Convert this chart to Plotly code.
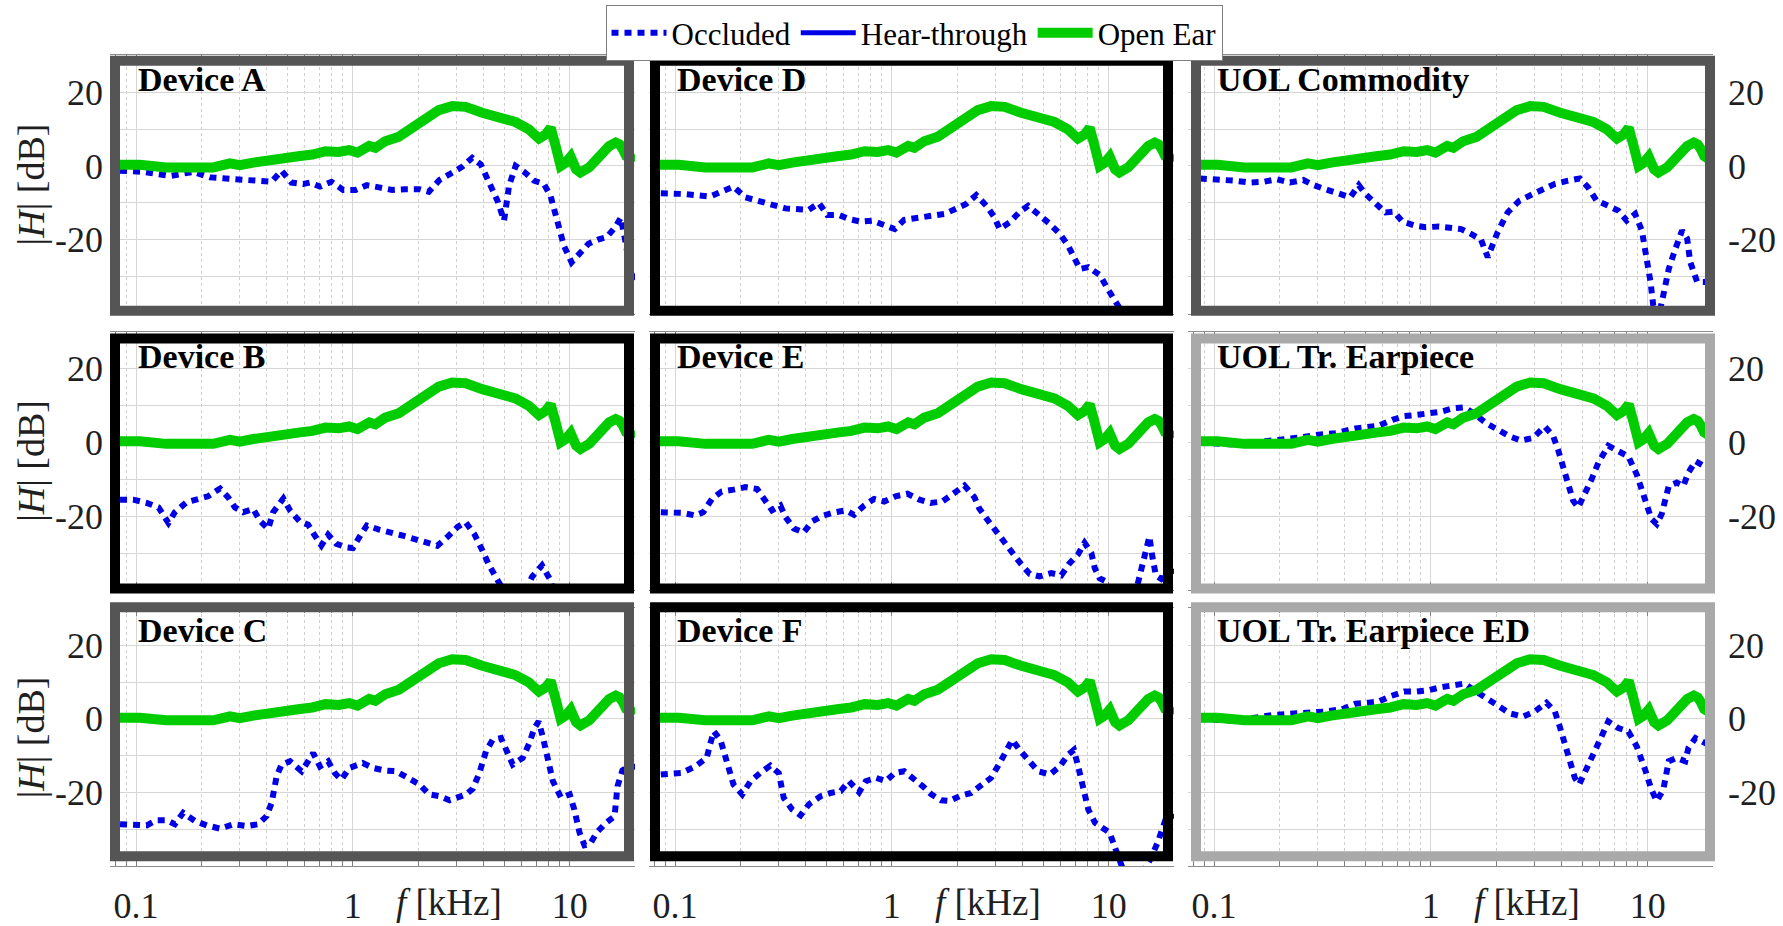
import math
import plotly.graph_objects as go

# ---------------- data (frequency in kHz, magnitude in dB) ----------------
open_ear_f = [0.084, 0.104, 0.138, 0.197, 0.227, 0.271, 0.301, 0.347, 0.414, 0.477, 0.57, 0.65, 0.748, 0.861,
              0.96, 1.05, 1.19, 1.27, 1.41, 1.63, 1.88, 2.16, 2.49, 2.87, 3.31, 3.95, 4.71, 5.62, 6.48, 7.21,
              7.74, 8.17, 8.61, 9.08, 9.59, 10.1, 10.7, 11.2, 12.3, 13.7, 15.2, 16.3, 17.0, 17.6, 18.2, 19.0, 20.0]
open_ear_db = [0.3, 0.3, -0.4, 0.0, -0.4, 0.7, 0.2, 0.9, 1.3, 2.2, 2.7, 3.1, 4.0, 3.8,
               4.3, 3.6, 5.4, 4.9, 6.7, 7.9, 10.1, 12.6, 15.1, 16.2, 16.0, 14.4, 13.0, 11.9, 9.9, 7.4,
               8.5, 10.3, 5.4, 0.0, 0.9, 2.5, -0.9, -1.8, -0.4, 2.9, 5.4, 6.3, 5.8, 4.5, 2.7, 2.0, 3.0]

# no hear-through curve is drawn in any panel; it only appears in the legend
hear_through_f = [None]
hear_through_db = [None]

dev_a_f = [0.0844, 0.108, 0.144, 0.184, 0.219, 0.281, 0.36, 0.422, 0.469, 0.521, 0.59, 0.634, 0.705, 0.797,
           0.902, 1.03, 1.16, 1.32, 1.52, 1.74, 2.03, 2.24, 2.51, 2.88, 3.2, 3.55, 3.89, 4.18, 4.64, 4.98,
           5.25, 5.63, 6.16, 6.84, 7.6, 8.16, 8.75, 9.4, 10.2, 11.1, 12.2, 13.6, 14.8, 16.2, 17.2, 18.0, 19.0, 20.0]
dev_a_db = [-1.3, -1.6, -2.7, -1.6, -3.1, -3.4, -4.0, -4.3, -1.3, -4.5, -4.9, -4.5, -5.6, -4.3,
            -6.5, -6.5, -5.2, -5.8, -6.5, -6.3, -6.3, -7.0, -3.8, -1.8, -0.2, 2.2, 0.4, -3.6, -9.4, -14.8,
            -5.4, 0.0, -1.6, -4.0, -4.9, -8.1, -14.4, -21.6, -26.1, -23.8, -21.1, -19.9, -19.3, -16.6, -14.0, -20.0, -28.0, -32.0]

dev_d_f = [0.086, 0.111, 0.145, 0.167, 0.186, 0.211, 0.239, 0.275, 0.323, 0.413, 0.461, 0.504, 0.571, 0.635,
           0.719, 0.815, 0.922, 1.03, 1.14, 1.31, 1.52, 1.75, 1.98, 2.2, 2.45, 2.73, 2.97, 3.14, 3.49, 3.89,
           4.25, 4.81, 5.35, 5.95, 6.5, 6.98, 7.36, 8.05, 9.12, 9.78, 10.5, 11.3, 12.5, 14.0]
dev_d_db = [-7.4, -7.6, -8.3, -6.7, -5.6, -8.5, -9.4, -10.6, -11.5, -11.9, -10.1, -13.3, -13.3, -14.4,
            -15.1, -14.8, -16.2, -17.1, -14.6, -13.9, -13.5, -13.0, -11.7, -10.3, -7.9, -10.8, -13.9, -17.1, -15.3, -12.4,
            -10.8, -13.3, -15.7, -18.4, -21.6, -25.2, -27.9, -27.4, -29.6, -32.8, -35.9, -39.1, -43.0, -46.0]

uol_com_f = [0.086, 0.108, 0.125, 0.146, 0.169, 0.194, 0.224, 0.258, 0.288, 0.326, 0.376, 0.425, 0.465, 0.499,
             0.555, 0.618, 0.676, 0.739, 0.852, 0.948, 1.09, 1.24, 1.38, 1.53, 1.70, 1.83, 1.89, 2.03, 2.26, 2.56,
             2.96, 3.29, 3.72, 4.29, 4.86, 5.31, 5.81, 6.58, 7.32, 8.0, 8.75, 9.4, 9.9, 10.3, 10.6, 11.2, 11.8,
             12.5, 13.4, 14.4, 15.2, 15.7, 16.9, 18.5, 19.3, 20.0]
uol_com_db = [-3.4, -3.6, -4.0, -4.5, -4.3, -3.6, -4.5, -3.8, -5.2, -6.3, -7.6, -8.5, -5.2, -7.6,
              -10.1, -12.6, -12.4, -15.1, -16.2, -16.6, -16.4, -16.9, -17.1, -18.4, -19.9, -24.7, -22.5, -18.0, -12.6, -9.4,
              -7.6, -6.3, -4.9, -4.0, -3.4, -5.8, -9.4, -10.8, -12.1, -14.8, -13.0, -17.5, -24.3, -31.4, -37.7, -41.0, -35.0,
              -27.9, -22.5, -17.5, -19.7, -26.0, -31.4, -31.4, -30.5, -28.0]

dev_b_f = [0.0844, 0.097, 0.112, 0.127, 0.141, 0.151, 0.171, 0.19, 0.215, 0.244, 0.266, 0.286, 0.312, 0.347,
           0.372, 0.407, 0.429, 0.478, 0.513, 0.569, 0.622, 0.667, 0.716, 0.769, 0.84, 0.933, 1.0, 1.07, 1.16,
           1.32, 1.5, 1.69, 1.91, 2.21, 2.45, 2.73, 3.04, 3.31, 3.63, 3.96, 4.25, 4.65, 4.9, 5.5, 6.2, 6.7, 7.45,
           8.1, 8.6, 9.5]
dev_b_db = [-15.5, -15.5, -16.4, -17.6, -21.8, -18.9, -16.2, -15.3, -14.6, -12.5, -14.9, -17.6, -18.9, -18.0,
            -21.2, -23.4, -18.9, -15.2, -18.4, -21.4, -22.3, -25.2, -27.9, -25.0, -27.5, -28.4, -28.6, -25.7, -22.5,
            -23.6, -24.3, -25.2, -26.1, -27.0, -28.0, -25.6, -22.9, -21.6, -24.8, -29.3, -33.3, -37.3, -39.6, -42.0, -41.0, -36.4, -33.3,
            -37.0, -42.0, -46.0]

dev_e_f = [0.086, 0.109, 0.124, 0.135, 0.148, 0.164, 0.186, 0.211, 0.239, 0.261, 0.28, 0.306, 0.323, 0.353,
           0.392, 0.429, 0.477, 0.54, 0.612, 0.669, 0.745, 0.828, 0.922, 1.04, 1.18, 1.34, 1.51, 1.71, 1.94,
           2.16, 2.4, 2.53, 2.77, 3.02, 3.31, 3.61, 3.95, 4.32, 4.8, 5.43, 6.04, 6.6, 7.2, 7.74, 8.32, 8.62,
           9.08, 9.75, 10.4, 11.0, 13.0, 14.1, 15.0, 15.4, 15.9, 16.5, 17.5, 18.5, 19.5, 20.0]
dev_e_db = [-18.9, -19.1, -19.8, -18.9, -15.3, -13.3, -12.8, -12.1, -12.6, -16.2, -18.4, -17.1, -20.2, -23.3,
            -24.4, -21.4, -19.9, -19.0, -18.4, -19.6, -17.1, -15.3, -16.0, -14.6, -13.9, -15.5, -16.4, -16.0, -13.9,
            -11.7, -14.8, -17.9, -21.1, -23.8, -26.9, -30.0, -33.0, -35.6, -36.3, -35.4, -36.0, -32.7, -30.4, -27.2, -30.0, -34.0,
            -36.8, -37.7, -40.5, -43.0, -43.0, -35.0, -28.0, -25.5, -31.0, -36.0, -37.0, -36.0, -35.0, -34.0]

uol_tr_f = [0.086, 0.125, 0.172, 0.213, 0.254, 0.303, 0.363, 0.449, 0.517, 0.575, 0.664, 0.752, 0.852, 0.98,
            1.11, 1.26, 1.43, 1.59, 1.8, 2.04, 2.31, 2.61, 2.96, 3.35, 3.66, 3.86, 4.07, 4.3, 4.53, 4.78, 5.13,
            5.51, 5.92, 6.58, 7.32, 8.14, 8.9, 9.73, 10.4, 11.0, 11.6, 12.5, 13.6, 14.6, 15.4, 16.6, 18.1, 19.0, 20.0]
uol_tr_db = [0.0, -0.6, 0.3, 0.7, 1.4, 2.1, 2.5, 3.8, 4.3, 4.5, 6.1, 7.1, 7.4, 7.7,
             8.3, 9.2, 9.5, 7.7, 5.2, 3.4, 1.6, 0.5, 1.2, 4.3, 1.8, -2.0, -6.4, -11.8, -15.8, -17.6, -14.0,
             -10.0, -5.5, -0.9, -2.4, -3.8, -8.7, -16.3, -20.7, -22.1, -19.4, -11.8, -10.9, -11.8, -8.2, -5.1, -6.3, -7.0, -8.5]

dev_c_f = [0.0844, 0.097, 0.112, 0.124, 0.138, 0.151, 0.165, 0.187, 0.212, 0.244, 0.281, 0.324, 0.366, 0.4,
           0.422, 0.445, 0.469, 0.513, 0.58, 0.622, 0.656, 0.705, 0.769, 0.825, 0.885, 0.966, 1.11, 1.24, 1.4,
           1.58, 1.79, 2.03, 2.25, 2.51, 2.79, 3.1, 3.33, 3.57, 3.83, 4.11, 4.41, 4.82, 5.18, 5.46, 6.07, 6.51,
           6.87, 7.19, 7.51, 7.92, 8.36, 9.12, 10.0, 10.5, 11.1, 11.7, 12.4, 13.3, 14.7, 16.1, 16.6, 17.5, 18.5, 20.0]
dev_c_db = [-28.6, -28.6, -28.9, -27.5, -27.5, -28.6, -25.5, -27.7, -28.9, -29.8, -28.6, -29.1, -28.6, -26.4,
            -22.8, -15.6, -12.4, -11.5, -14.2, -11.5, -9.3, -12.9, -11.5, -14.7, -16.5, -13.3, -12.0, -13.3, -14.0,
            -14.2, -16.0, -17.8, -20.5, -21.0, -22.1, -21.0, -20.5, -19.0, -14.7, -8.8, -5.7, -5.2, -9.3, -12.4, -10.6, -6.6,
            -2.5, -0.7, -4.8, -11.5, -16.9, -21.4, -20.5, -24.6, -30.9, -34.3, -34.0, -30.9, -28.2, -26.4, -18.3, -14.0, -13.0, -13.0]

dev_f_f = [0.086, 0.107, 0.124, 0.14, 0.145, 0.151, 0.162, 0.173, 0.186, 0.204, 0.223, 0.247, 0.275, 0.301,
           0.317, 0.347, 0.379, 0.414, 0.469, 0.522, 0.581, 0.634, 0.706, 0.758, 0.843, 0.938, 1.03, 1.14, 1.25,
           1.39, 1.52, 1.69, 1.84, 2.05, 2.32, 2.58, 2.87, 3.14, 3.37, 3.59, 3.88, 4.24, 4.72, 5.35, 5.95, 6.5,
           6.91, 7.23, 7.63, 8.05, 8.65, 9.45, 10.1, 10.7, 11.3, 12.0, 13.5, 14.8, 15.6, 16.8, 17.7, 18.3, 19.2, 20.0]
dev_f_db = [-15.1, -14.7, -12.9, -10.6, -7.0, -3.4, -5.7, -12.0, -17.8, -20.5, -16.9, -14.7, -12.7, -14.7,
            -21.4, -24.6, -26.2, -23.2, -21.0, -20.1, -19.6, -16.9, -19.9, -16.9, -16.0, -16.9, -14.7, -14.2, -16.0,
            -18.3, -20.5, -22.1, -22.3, -21.0, -20.1, -18.1, -16.0, -12.0, -8.8, -5.7, -8.4, -11.1, -14.2, -15.1, -12.9, -9.7,
            -8.4, -12.9, -19.2, -24.6, -28.2, -29.5, -30.9, -35.0, -39.0, -43.0, -44.0, -40.0, -38.0, -33.6, -29.0, -27.3, -26.0, -27.0]

uol_tr_ed_f = [0.086, 0.125, 0.19, 0.254, 0.326, 0.389, 0.449, 0.517, 0.575, 0.653, 0.752, 0.852, 0.98, 1.11,
               1.26, 1.43, 1.59, 1.8, 2.04, 2.31, 2.66, 3.01, 3.41, 3.73, 3.93, 4.15, 4.37, 4.61, 4.83, 5.13,
               5.51, 6.02, 6.58, 7.32, 8.14, 8.9, 9.73, 10.4, 11.0, 11.8, 12.5, 13.6, 14.9, 15.4, 16.6, 18.1, 19.0, 20.0]
uol_tr_ed_db = [0.0, -0.5, 1.1, 1.5, 2.0, 2.6, 4.1, 4.4, 4.7, 6.2, 7.4, 7.4, 7.8, 8.6,
                9.2, 9.6, 7.7, 5.6, 3.5, 1.5, 0.6, 2.0, 4.4, 2.0, -2.1, -7.0, -12.4, -16.0, -17.8, -14.7,
                -11.1, -5.7, -0.7, -2.5, -3.4, -7.5, -13.8, -19.2, -22.3, -19.2, -11.5, -10.6, -11.5, -7.9, -5.2, -6.6, -7.0, -9.0]

panel_names = ["Device A", "Device D", "UOL Commodity",
               "Device B", "Device E", "UOL Tr. Earpiece",
               "Device C", "Device F", "UOL Tr. Earpiece ED"]
occluded_f = [dev_a_f, dev_d_f, uol_com_f, dev_b_f, dev_e_f, uol_tr_f, dev_c_f, dev_f_f, uol_tr_ed_f]
occluded_db = [dev_a_db, dev_d_db, uol_com_db, dev_b_db, dev_e_db, uol_tr_db, dev_c_db, dev_f_db, uol_tr_ed_db]

x_major_ticks = [0.1, 1, 10]
x_major_text = ["0.1", "1", "10"]
x_minor_ticks = [0.08, 0.09, 0.2, 0.3, 0.4, 0.5, 0.6, 0.7, 0.8, 0.9, 2, 3, 4, 5, 6, 7, 8, 9, 20]
y_ticks = [-30, -20, -10, 0, 10, 20]
y_tick_text = ["", "-20", "", "0", "", "20"]
x_label_text = "<i>f</i> [kHz]"
x_label_pos = 2.77
y_label_text = "|<i>H</i>| [dB]"

# ---------------- styling / layout ----------------
W, H = 1783, 926
FONT = "Liberation Serif"
TXT = "#1f1f1f"
box_colors = ["#555555", "#000000", "#555555",
              "#000000", "#000000", "#a9a9a9",
              "#555555", "#000000", "#a9a9a9"]
X_RANGE = [-1.12, math.log10(20)]
col_px = [(110, 635), (649, 1174), (1188, 1713)]
row_px = [(55.4, 315), (333, 592.7), (611, 870)]
box_x = [(115, 629), (655, 1168), (1196, 1710)]
box_y = [(61, 312), (340, 591), (610, 860)]
title_x = [136, 675, 1215]
title_y = [80, 358, 633]


def px(v):
    return v / W


def py(v):
    return 1 - v / H


fig = go.Figure()
shapes = []
annotations = []
for i in range(9):
    r, c = divmod(i, 3)
    sfx = "" if i == 0 else str(i + 1)
    xa, ya = "x" + sfx, "y" + sfx
    fig.add_trace(go.Scatter(x=occluded_f[i], y=occluded_db[i], xaxis=xa, yaxis=ya, mode="lines",
                             line=dict(color="#0000E6", width=6, dash="7px,6px"),
                             name="Occluded", legendgroup="occ", showlegend=(i == 0)))
    if i == 0:
        fig.add_trace(go.Scatter(x=hear_through_f, y=hear_through_db, xaxis=xa, yaxis=ya, mode="lines",
                                 line=dict(color="#0000E6", width=5), name="Hear-through",
                                 legendgroup="ht", showlegend=True))
    fig.add_trace(go.Scatter(x=open_ear_f, y=open_ear_db, xaxis=xa, yaxis=ya, mode="lines",
                             line=dict(color="#00CC00", width=10),
                             name="Open Ear", legendgroup="oe", showlegend=(i == 0)))

    fig.layout["xaxis" + sfx] = dict(
        type="log", range=X_RANGE, domain=[px(col_px[c][0]), px(col_px[c][1])], anchor=ya,
        tickmode="array", tickvals=x_major_ticks, ticktext=x_major_text,
        showticklabels=(r == 2), ticks="inside", ticklen=8, tickcolor="#808080", tickwidth=1,
        showline=True, linecolor="#8c8c8c", linewidth=1, mirror="ticks",
        showgrid=True, gridcolor="#d6d6d6", gridwidth=1, zeroline=False,
        minor=dict(tickmode="array", tickvals=x_minor_ticks, ticks="inside", ticklen=5,
                   tickcolor="#808080", showgrid=True, gridcolor="#cfcfcf", griddash="dot", gridwidth=1),
        tickfont=dict(family=FONT, size=36, color=TXT), ticklabelstandoff=8,
    )
    fig.layout["yaxis" + sfx] = dict(
        range=[-40, 30], domain=[py(row_px[r][1]), py(row_px[r][0])], anchor=xa,
        tickmode="array", tickvals=y_ticks, ticktext=y_tick_text,
        showticklabels=(c != 1), side=("right" if c == 2 else "left"), ticks="",
        showline=False, showgrid=True, gridcolor="#d6d6d6", gridwidth=1, zeroline=False,
        tickfont=dict(family=FONT, size=36, color=TXT), ticklabelstandoff=(14 if c == 2 else 6),
    )

    shapes.append(dict(type="rect", xref="paper", yref="paper", layer="above",
                       x0=px(box_x[c][0]), x1=px(box_x[c][1]), y0=py(box_y[r][1]), y1=py(box_y[r][0]),
                       line=dict(color=box_colors[i], width=10), fillcolor="rgba(0,0,0,0)"))
    annotations.append(dict(text="<b>" + panel_names[i] + "</b>", xref="paper", yref="paper",
                            x=px(title_x[c]), y=py(title_y[r]), xanchor="left", yanchor="middle",
                            showarrow=False, font=dict(family=FONT, size=34, color="#000000")))
    if c == 0:
        annotations.append(dict(text=y_label_text, xref="paper", yref="paper", textangle=-90,
                                x=px(31), y=py((row_px[r][0] + row_px[r][1]) / 2),
                                xanchor="center", yanchor="middle", showarrow=False,
                                font=dict(family=FONT, size=38, color=TXT)))
    if r == 2:
        annotations.append(dict(text=x_label_text, xref=xa, yref="paper",
                                x=math.log10(x_label_pos), y=py(906),
                                xanchor="center", yanchor="middle", showarrow=False,
                                font=dict(family=FONT, size=37, color=TXT)))

fig.update_layout(
    width=W, height=H, margin=dict(l=0, r=0, t=0, b=0),
    paper_bgcolor="white", plot_bgcolor="white",
    font=dict(family=FONT, size=30, color="#000000"),
    shapes=shapes, annotations=annotations,
    legend=dict(orientation="h", x=px(914), xanchor="center", y=py(5), yanchor="top",
                bordercolor="#808080", borderwidth=1, bgcolor="white",
                font=dict(family=FONT, size=31, color="#000000"), itemwidth=55,
                traceorder="normal"),
)

fig.write_html("out.html", config={"displayModeBar": False},
               post_script="document.body.style.margin='0px';document.body.style.overflow='hidden';")
